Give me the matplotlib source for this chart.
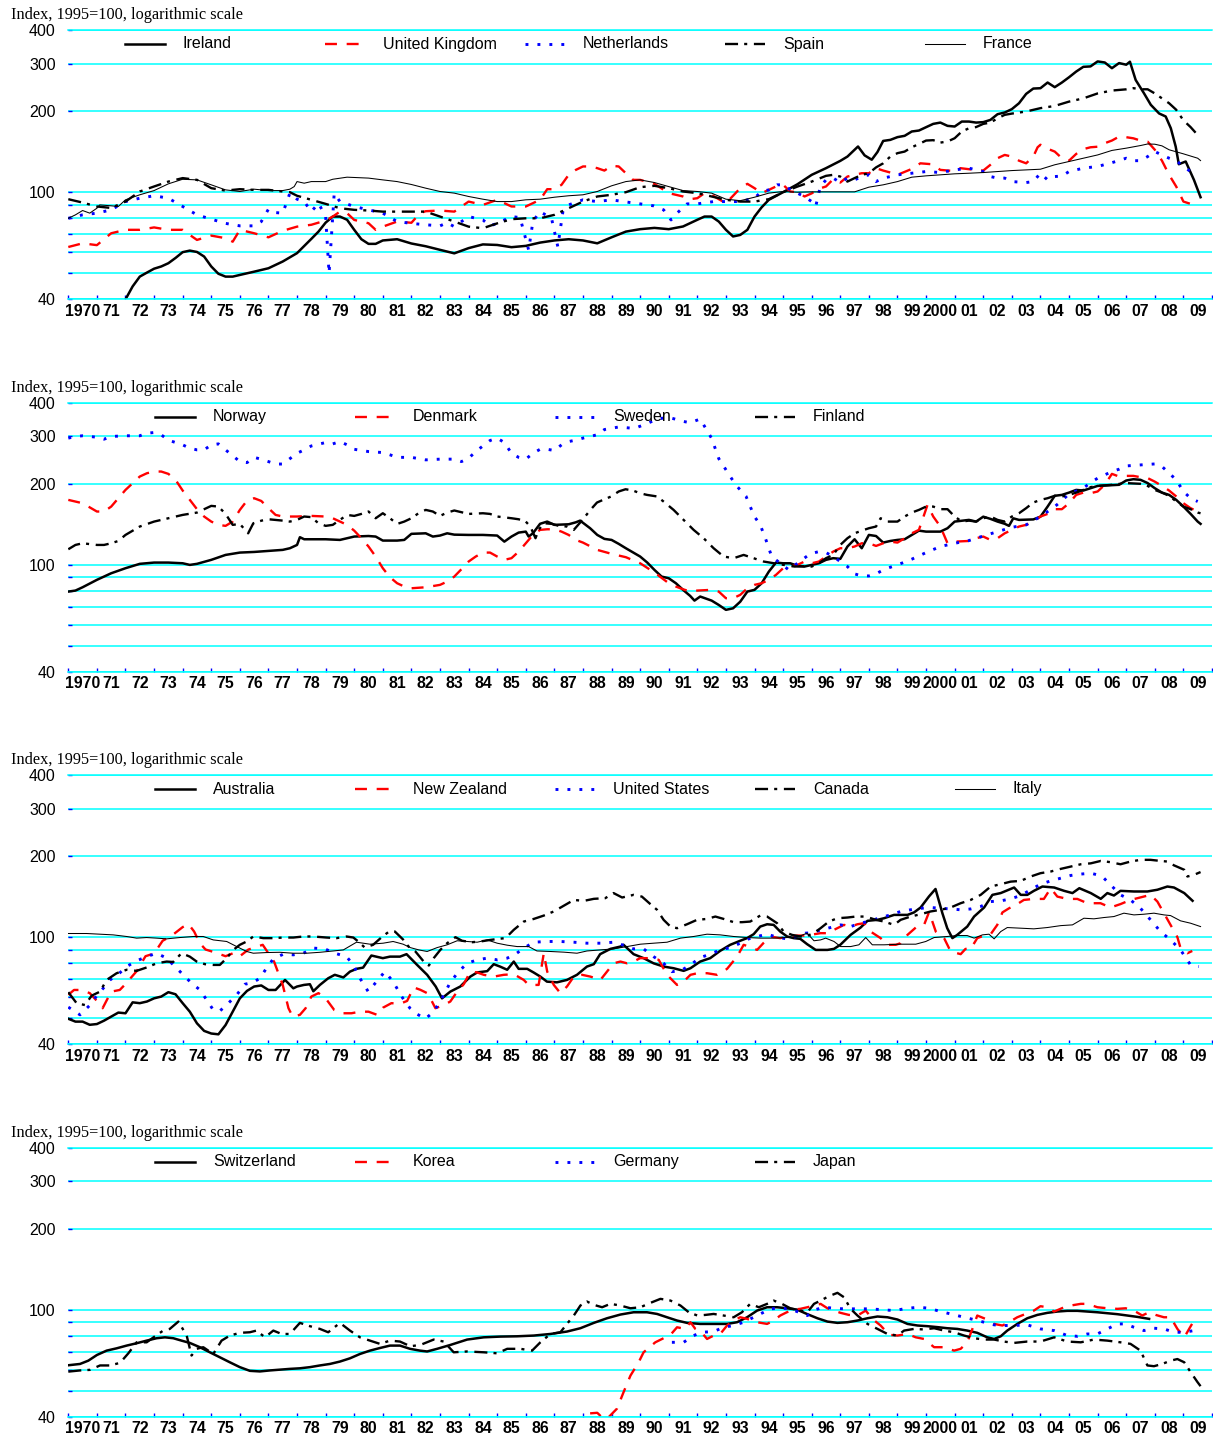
import numpy as np
import matplotlib.pyplot as plt
from matplotlib.lines import Line2D
from matplotlib.ticker import FixedLocator, FixedFormatter, NullLocator

plt.rcParams['font.family'] = ['Liberation Sans', 'DejaVu Sans']
plt.rcParams['lines.scale_dashes'] = False

""" Data (index, 1995=100), read off the chart as (year, value) """
# panel 1
ireland = [(1971.75, 37), (1972.0, 40), (1972.25, 44.7), (1972.5, 48.6), (1972.75, 50.3), (1973.0, 52),
           (1973.25, 53), (1973.5, 54.5), (1973.75, 57), (1974.0, 59.9), (1974.25, 60.7), (1974.5, 60),
           (1974.75, 57.7), (1975.0, 53), (1975.25, 49.8), (1975.5, 48.6), (1975.75, 48.6), (1976.0, 49.3),
           (1976.5, 50.7), (1977.0, 52.2), (1977.5, 55.3), (1978.0, 59.4), (1978.5, 67.1), (1978.75, 71.4),
           (1979.0, 77.1), (1979.25, 81.2), (1979.5, 81.2), (1979.75, 79), (1980.0, 72.5), (1980.25, 66.9),
           (1980.5, 64.3), (1980.75, 64.3), (1981.0, 66.2), (1981.5, 66.9), (1982.0, 64.5), (1982.5, 63),
           (1983.0, 61.1), (1983.5, 59.3), (1984.0, 62), (1984.5, 64), (1985.0, 63.7), (1985.5, 62.5),
           (1986.0, 63.2), (1986.5, 65), (1987.0, 66.2), (1987.5, 66.9), (1988.0, 66.2), (1988.5, 64.6),
           (1989.0, 68), (1989.5, 71.4), (1990.0, 72.9), (1990.5, 73.7), (1991.0, 72.9), (1991.5, 74.6),
           (1992.0, 79), (1992.25, 81.2), (1992.5, 81.2), (1992.75, 77.8), (1993.0, 72.5), (1993.25, 68.5),
           (1993.5, 69.4), (1993.75, 72.5), (1994.0, 81.2), (1994.25, 87.9), (1994.5, 93.7), (1995.0, 100),
           (1995.5, 107), (1996.0, 116), (1996.5, 122.8), (1997.0, 130.7), (1997.25, 135.6), (1997.62, 147.8),
           (1997.85, 137), (1998.1, 132), (1998.3, 141), (1998.5, 155), (1998.75, 156.4), (1999.0, 160.1),
           (1999.25, 161.9), (1999.5, 168), (1999.75, 169.4), (2000.0, 174.3), (2000.25, 179.3), (2000.5, 181.3),
           (2000.75, 176.3), (2001.0, 175.3), (2001.25, 182.9), (2001.5, 182.9), (2001.75, 181.3), (2002.0, 182),
           (2002.25, 185.5), (2002.5, 194.8), (2002.75, 197.6), (2003.0, 203.4), (2003.25, 213.9), (2003.5, 231.7),
           (2003.75, 242.5), (2004.0, 243.2), (2004.25, 255.3), (2004.5, 245.4), (2004.75, 255.3), (2005.0, 267.1),
           (2005.25, 280.4), (2005.5, 292), (2005.75, 293), (2006.0, 305.8), (2006.25, 303), (2006.5, 288.6),
           (2006.75, 301.5), (2007.0, 297.3), (2007.13, 305), (2007.33, 261), (2007.62, 233), (2007.86, 211),
           (2008.15, 196), (2008.38, 191), (2008.56, 172.7), (2008.73, 147.7), (2008.84, 127), (2009.08, 130),
           (2009.37, 111), (2009.6, 95.8)]
uk = [(1970.0, 62.6), (1970.5, 64.6), (1971.0, 63.6), (1971.5, 70.4), (1972.0, 72.5), (1972.5, 72.5), (1973.0, 74),
      (1973.5, 72.5), (1974.0, 72.5), (1974.25, 69.4), (1974.5, 66.5), (1975.0, 69), (1975.5, 67.5), (1975.75, 65.5),
      (1976.0, 72.5), (1976.5, 70.4), (1977.0, 68), (1977.5, 71.9), (1978.0, 74.5), (1978.5, 75.7), (1979.0, 78.5),
      (1979.25, 81.2), (1979.5, 84.7), (1979.75, 83.6), (1980.0, 78.9), (1980.5, 76.7), (1980.75, 72.5),
      (1981.0, 74.5), (1981.5, 77.8), (1982.0, 77), (1982.3, 83.6), (1982.5, 85), (1983.0, 85.5), (1983.5, 84.7),
      (1984.0, 92.3), (1984.5, 89.7), (1985.0, 93.7), (1985.5, 88.5), (1986.0, 88.5), (1986.5, 93.7),
      (1986.75, 102.6), (1987.0, 102.6), (1987.25, 106.5), (1987.5, 116), (1987.75, 121), (1988.0, 124.6),
      (1988.25, 124.6), (1988.5, 122.8), (1988.75, 120.3), (1989.0, 125.3), (1989.25, 124.6), (1989.5, 117.6),
      (1989.75, 111.1), (1990.0, 111.1), (1990.5, 107.4), (1991.0, 99.2), (1991.5, 96.4), (1991.75, 94.2),
      (1992.0, 95), (1992.25, 99.2), (1992.5, 97.8), (1992.75, 94.2), (1993.0, 91), (1993.25, 97), (1993.5, 103.5),
      (1993.75, 107.4), (1994.0, 103.5), (1994.25, 99.2), (1994.5, 102), (1994.75, 105), (1995.0, 106.5),
      (1995.25, 100.6), (1995.5, 100), (1995.75, 96.4), (1996.0, 99), (1996.25, 103), (1996.5, 105),
      (1996.75, 111.7), (1997.0, 108.6), (1997.25, 114.3), (1997.5, 116), (1997.75, 117.6), (1998.0, 117.6),
      (1998.25, 122.8), (1998.5, 120.3), (1998.75, 118.3), (1999.0, 116), (1999.5, 122), (1999.8, 128),
      (2000.2, 127), (2000.5, 121), (2000.9, 120), (2001.2, 122.8), (2001.7, 121), (2002.0, 120.3),
      (2002.25, 126.4), (2002.5, 133.7), (2002.75, 137.5), (2003.0, 135.6), (2003.25, 130.9), (2003.5, 128),
      (2003.75, 135.6), (2003.9, 146.8), (2004.0, 150), (2004.25, 145), (2004.5, 141.5), (2004.75, 133.7),
      (2005.0, 130.9), (2005.25, 138.7), (2005.5, 144.5), (2005.75, 146.8), (2006.0, 147.5), (2006.25, 152),
      (2006.5, 155.5), (2006.75, 160.8), (2007.0, 160), (2007.25, 158.5), (2007.5, 155.5), (2007.75, 154),
      (2008.0, 143.7), (2008.25, 130.9), (2008.5, 116), (2008.75, 104.9), (2009.0, 92.3), (2009.25, 90.5),
      (2009.5, 92.3)]
netherlands = [(1970.0, 80), (1970.25, 81.2), (1970.5, 82.4), (1971.0, 83.6), (1971.5, 86), (1972.0, 92.3),
               (1972.5, 95), (1973.0, 97), (1973.5, 95), (1974.0, 88.5), (1974.5, 82.4), (1975.0, 79.4),
               (1975.5, 76.6), (1976.0, 75), (1976.5, 75), (1976.75, 77.8), (1977.0, 86.5), (1977.25, 84),
               (1977.5, 83.6), (1977.75, 99.2), (1978.0, 94.2), (1978.25, 92.3), (1978.5, 84.7), (1978.75, 91),
               (1979.0, 81.2), (1979.12, 50), (1979.3, 99), (1979.5, 92.3), (1980.0, 88.5), (1980.5, 86),
               (1981.0, 83.6), (1981.5, 77.8), (1982.0, 76.6), (1982.5, 75.7), (1983.0, 75), (1983.25, 77),
               (1983.5, 74.5), (1984.0, 81.2), (1984.5, 78.9), (1984.75, 75), (1985.0, 76.6), (1985.5, 81.2),
               (1985.8, 80.5), (1986.1, 61), (1986.25, 78), (1986.5, 84.7), (1986.9, 80), (1987.12, 62.8),
               (1987.3, 85), (1987.5, 89.7), (1988.0, 93.7), (1988.5, 92.3), (1989.0, 93.7), (1989.5, 92),
               (1990.0, 90.5), (1990.47, 89), (1990.82, 86), (1991.08, 78.9), (1991.29, 83.6), (1991.64, 90.5),
               (1992.0, 90.5), (1992.57, 92.3), (1993.0, 92.3), (1993.5, 92.3), (1994.0, 95), (1994.24, 100.6),
               (1994.5, 102), (1994.79, 106.5), (1995.02, 106.5), (1995.26, 102), (1995.5, 99.2), (1995.74, 96.4),
               (1996.0, 92.3), (1996.14, 88.5), (1996.3, 104.9), (1996.5, 111.1), (1996.75, 112.8), (1997.0, 108.6),
               (1997.25, 112.8), (1997.5, 111.1), (1997.75, 114.3), (1998.0, 116), (1998.25, 109.5), (1998.5, 112.8),
               (1998.75, 114.3), (1999.0, 116), (1999.5, 117.6), (2000.0, 119.3), (2000.5, 118.3), (2001.0, 121),
               (2001.5, 122.8), (2002.0, 119.3), (2002.25, 114.3), (2002.5, 112.8), (2002.75, 112.8), (2003.0, 109.5),
               (2003.5, 108.6), (2003.75, 109.5), (2004.0, 117.6), (2004.25, 111.1), (2004.5, 114.3), (2004.75, 114.8),
               (2005.0, 119.3), (2005.5, 122.8), (2006.0, 124.6), (2006.5, 128.7), (2007.0, 133.7), (2007.25, 130.9),
               (2007.5, 130.9), (2007.75, 135.6), (2008.0, 141.5), (2008.25, 137.5), (2008.5, 133.7), (2008.75, 130.9),
               (2009.0, 124.6), (2009.25, 119.3), (2009.4, 117.6)]
spain = [(1970.0, 94.2), (1970.5, 91.5), (1971.0, 88.5), (1971.5, 87.4), (1972.0, 92.3), (1972.5, 100.6),
         (1973.0, 105), (1973.5, 109.5), (1974.0, 112.8), (1974.5, 111.1), (1975.0, 103.5), (1975.5, 101.4),
         (1976.0, 102.6), (1976.5, 102), (1977.0, 102), (1977.5, 100.6), (1977.75, 100), (1978.0, 97),
         (1978.5, 93.7), (1979.0, 90.5), (1979.5, 87.2), (1980.0, 86), (1980.5, 85.5), (1981.0, 84.7),
         (1981.5, 84.7), (1982.0, 84.7), (1982.5, 84.7), (1983.0, 81.2), (1983.5, 77.8), (1984.0, 74.5),
         (1984.5, 73.5), (1985.0, 76.6), (1985.5, 79.4), (1986.0, 80), (1986.5, 80), (1987.0, 82.4),
         (1987.5, 87.2), (1988.0, 92.3), (1988.5, 96.4), (1989.0, 97.8), (1989.5, 100), (1990.0, 104.4),
         (1990.5, 105.6), (1991.0, 103.5), (1991.5, 100.6), (1992.0, 99.2), (1992.5, 96.4), (1993.0, 93.7),
         (1993.5, 92.3), (1994.0, 92.3), (1994.5, 94.2), (1995.0, 100), (1995.5, 104.9), (1996.0, 109.5),
         (1996.5, 115), (1996.75, 116), (1997.0, 114.3), (1997.25, 109.5), (1997.5, 112.8), (1997.75, 116),
         (1998.0, 117.6), (1998.25, 123.6), (1998.5, 128), (1998.75, 135.6), (1999.0, 139.6), (1999.25, 141.5),
         (1999.5, 146.8), (1999.75, 151), (2000.0, 155.5), (2000.25, 156), (2000.5, 152.8), (2000.75, 154.2),
         (2001.0, 158.6), (2001.25, 168), (2001.5, 172.7), (2001.75, 174.5), (2002.0, 179.3), (2002.25, 181.3),
         (2002.5, 188), (2002.75, 193.7), (2003.0, 195.8), (2003.5, 199.3), (2004.0, 205.1), (2004.5, 209),
         (2005.0, 216.9), (2005.5, 223), (2006.0, 232.6), (2006.5, 238.4), (2007.0, 240.9), (2007.25, 243.3),
         (2007.5, 241), (2007.75, 241), (2008.0, 232.6), (2008.25, 223), (2008.5, 213.9), (2008.75, 202.2),
         (2009.0, 184.8), (2009.25, 174.5), (2009.5, 163)]
france = [(1970.0, 80), (1970.25, 82.4), (1970.5, 85.5), (1970.75, 83.6), (1971.0, 87.2), (1971.1, 89.7),
          (1971.5, 89), (1971.75, 88.5), (1972.0, 93.7), (1972.5, 97.8), (1973.0, 101.4), (1973.5, 107.4),
          (1974.0, 111.7), (1974.5, 111.1), (1975.0, 106.5), (1975.5, 102), (1976.0, 100.6), (1976.5, 102.6),
          (1977.0, 101.4), (1977.5, 101.4), (1977.75, 102.6), (1977.9, 104.9), (1978.0, 109.5), (1978.25, 108),
          (1978.5, 109.5), (1979.0, 109.5), (1979.25, 111.7), (1979.75, 113.7), (1980.0, 113.4), (1980.5, 112.8),
          (1981.0, 111.1), (1981.5, 109.5), (1982.0, 106.8), (1982.5, 103.5), (1983.0, 100.6), (1983.5, 99.2),
          (1984.0, 96.4), (1984.5, 94.2), (1985.0, 92.3), (1985.5, 92.3), (1986.0, 93.7), (1986.5, 94.2),
          (1987.0, 95.8), (1987.5, 97), (1988.0, 97.8), (1988.5, 100.6), (1989.0, 105.6), (1989.5, 109.5),
          (1990.0, 111.1), (1990.5, 108.6), (1991.0, 104.9), (1991.5, 101.4), (1992.0, 100.6), (1992.5, 99.2),
          (1993.0, 94.2), (1993.5, 93), (1994.0, 95.8), (1994.5, 99.2), (1995.0, 100.6), (1995.5, 100),
          (1996.0, 100.3), (1996.5, 100.3), (1997.0, 100.3), (1997.5, 100.3), (1998.0, 104.4), (1998.5, 106.5),
          (1999.0, 109.5), (1999.5, 113.7), (2000.0, 115), (2000.5, 116), (2001.0, 117), (2001.5, 117.6),
          (2002.0, 118.3), (2002.5, 119.3), (2003.0, 120.3), (2003.5, 121), (2004.0, 121.7), (2004.5, 126.4),
          (2005.0, 130), (2005.5, 133.7), (2006.0, 137.5), (2006.5, 142.9), (2007.0, 145.7), (2007.5, 149),
          (2007.75, 151), (2008.0, 150.7), (2008.25, 148.6), (2008.5, 143.7), (2009.0, 138.8), (2009.5, 133.7),
          (2009.6, 131)]

# panel 2
norway = [(1970.0, 79.6), (1970.25, 80.3), (1970.5, 82.6), (1971.0, 88), (1971.5, 93.1), (1972.0, 97.2),
          (1972.5, 100.9), (1973.0, 102), (1973.5, 102), (1974.0, 101.4), (1974.25, 100), (1974.5, 100.9),
          (1975.0, 104.4), (1975.5, 108.9), (1976.0, 111.1), (1976.5, 111.7), (1977.0, 112.7), (1977.5, 113.7),
          (1977.75, 115.3), (1978.0, 118.6), (1978.1, 126.7), (1978.25, 124.5), (1979.0, 124.5), (1979.5, 123.8),
          (1980.0, 127.4), (1980.5, 128), (1980.75, 127.4), (1981.0, 123.1), (1981.5, 123.1), (1981.75, 123.8),
          (1982.0, 130.4), (1982.5, 131), (1982.75, 127.4), (1983.0, 128.5), (1983.25, 131), (1983.5, 129.5),
          (1984.0, 129.2), (1984.5, 129.2), (1985.0, 128.5), (1985.25, 122), (1985.5, 127.4), (1985.75, 131.8),
          (1986.0, 132.9), (1986.1, 127.4), (1986.25, 131), (1986.5, 142.1), (1986.75, 144.8), (1987.0, 140.8),
          (1987.5, 141.5), (1987.75, 143.9), (1987.9, 146), (1988.25, 136.8), (1988.5, 129.2), (1988.75, 124.9),
          (1989.0, 123.8), (1989.25, 119.7), (1989.5, 115.3), (1990.0, 107.4), (1990.25, 102), (1990.5, 95.8),
          (1990.75, 90.5), (1991.0, 89.2), (1991.25, 85.5), (1991.5, 80.8), (1991.75, 76.7), (1991.9, 73.7),
          (1992.1, 76.3), (1992.5, 73.7), (1992.75, 71), (1993.0, 68.1), (1993.25, 69), (1993.5, 73),
          (1993.75, 79.6), (1994.0, 80.8), (1994.25, 85.5), (1994.5, 94.4), (1994.75, 102), (1995.0, 101.4),
          (1995.25, 101.4), (1995.5, 99.2), (1995.75, 98.6), (1996.0, 100), (1996.25, 101.4), (1996.5, 104.4),
          (1996.75, 105.9), (1997.0, 105.3), (1997.25, 117), (1997.5, 124.5), (1997.75, 115.3), (1998.0, 129.2),
          (1998.25, 128), (1998.5, 121), (1998.75, 122.7), (1999.0, 123.8), (1999.25, 124.5), (1999.5, 129.2),
          (1999.75, 134), (2000.0, 132.9), (2000.5, 132.9), (2000.75, 136.8), (2001.0, 144.8), (2001.5, 146.9),
          (2001.75, 144.8), (2002.0, 151), (2002.25, 148.2), (2002.5, 144.8), (2002.75, 142.1), (2002.9, 139.6),
          (2003.05, 148.9), (2003.25, 146.9), (2003.75, 147.5), (2004.0, 151), (2004.25, 164.6), (2004.5, 180.5),
          (2004.75, 181.9), (2005.0, 185.5), (2005.25, 189.8), (2005.5, 188.8), (2005.75, 192.6), (2006.0, 196.4),
          (2006.75, 198.3), (2007.0, 205.7), (2007.25, 208), (2007.5, 206.9), (2007.75, 201.2), (2008.0, 192.6),
          (2008.25, 185.5), (2008.5, 181.9), (2008.75, 174.3), (2009.0, 164.6), (2009.25, 154.7), (2009.5, 144.8),
          (2009.6, 142)]
denmark = [(1970.0, 174.3), (1970.5, 169.4), (1971.0, 157.8), (1971.25, 157.8), (1971.5, 164.6), (1972.0, 189.8),
           (1972.5, 212.8), (1972.75, 218.9), (1973.0, 222.1), (1973.25, 222.1), (1973.5, 217.7), (1973.75, 206.9),
           (1974.0, 188.8), (1974.25, 174.3), (1974.5, 161), (1974.75, 151.2), (1975.0, 144.8), (1975.25, 140.8),
           (1975.5, 139.6), (1975.75, 144.8), (1976.0, 160), (1976.25, 173.2), (1976.5, 176.8), (1976.75, 172.7),
           (1977.0, 162.4), (1977.25, 153.3), (1977.5, 151.2), (1978.0, 151.2), (1978.5, 152), (1979.0, 151.2),
           (1979.25, 149), (1979.5, 144.8), (1979.75, 140.8), (1980.0, 134), (1980.25, 125.6), (1980.5, 117),
           (1980.75, 107.4), (1981.0, 97.2), (1981.25, 90), (1981.5, 85.5), (1981.75, 83.1), (1982.0, 81.9),
           (1982.5, 82.6), (1983.0, 84.3), (1983.25, 86.7), (1983.5, 90.5), (1983.75, 96.4), (1984.0, 102.9),
           (1984.25, 107.4), (1984.5, 111.1), (1984.75, 111.1), (1985.0, 107.4), (1985.25, 104.4), (1985.5, 105.9),
           (1985.75, 112), (1986.0, 120.3), (1986.25, 129.2), (1986.5, 134.9), (1986.75, 135.6), (1987.0, 135.6),
           (1987.25, 132.9), (1987.5, 129.2), (1987.75, 123.8), (1988.0, 121), (1988.5, 113.7), (1989.0, 109.9),
           (1989.5, 106.8), (1990.0, 101.4), (1990.5, 93.7), (1991.0, 85.5), (1991.25, 83.1), (1991.5, 81.2),
           (1991.75, 79.6), (1992.0, 80.3), (1992.5, 80.8), (1992.75, 79.6), (1993.0, 75.2), (1993.25, 75.2),
           (1993.5, 77.4), (1993.75, 81.9), (1994.0, 84.3), (1994.25, 85.5), (1994.5, 88), (1994.75, 91.8),
           (1995.0, 97.2), (1995.25, 98.6), (1995.5, 100), (1995.75, 102.9), (1996.0, 101.4), (1996.25, 102.9),
           (1996.5, 107.4), (1996.75, 112), (1997.0, 115.3), (1997.25, 115.3), (1997.5, 117), (1997.75, 120.3),
           (1998.0, 120.3), (1998.25, 117.6), (1998.5, 120.3), (1998.75, 122), (1999.0, 121), (1999.25, 125.6),
           (1999.5, 131), (1999.75, 134.9), (2000.05, 167), (2000.25, 151.2), (2000.5, 138.8), (2000.75, 120.3),
           (2001.0, 122), (2001.5, 122.7), (2001.75, 125.6), (2002.0, 127.4), (2002.25, 123.8), (2002.5, 125.6),
           (2002.75, 131), (2003.0, 134.9), (2003.25, 138.8), (2003.5, 140.8), (2003.75, 144.8), (2004.0, 151.2),
           (2004.25, 154.6), (2004.5, 161), (2004.75, 161), (2005.0, 169.4), (2005.25, 181.9), (2005.5, 185.5),
           (2005.75, 184.5), (2006.0, 187.3), (2006.25, 198.3), (2006.5, 217.7), (2006.75, 212.8), (2007.0, 214),
           (2007.25, 214), (2007.5, 211.6), (2007.75, 210), (2008.0, 203.7), (2008.25, 196.4), (2008.5, 188.8),
           (2008.75, 179.5), (2009.0, 169.4), (2009.25, 162.4), (2009.5, 157.8)]
sweden = [(1970.0, 295.5), (1970.25, 299.7), (1970.5, 301.5), (1971.0, 297.8), (1971.25, 292.8), (1971.5, 299.7),
          (1972.0, 301.5), (1972.5, 301.5), (1972.75, 308.2), (1973.0, 310), (1973.25, 304), (1973.5, 290.4),
          (1974.0, 279), (1974.25, 271), (1974.5, 267.3), (1974.75, 267.3), (1975.0, 279), (1975.25, 281.3),
          (1975.5, 267.3), (1976.0, 241.8), (1976.25, 239.7), (1976.5, 250.7), (1976.75, 246.7), (1977.0, 241.8),
          (1977.25, 236.8), (1977.5, 236.8), (1978.0, 259.6), (1978.25, 267.3), (1978.5, 276.4), (1979.0, 284.6),
          (1979.25, 281.3), (1979.5, 287), (1979.75, 279), (1980.0, 268.6), (1980.5, 263.4), (1981.0, 261.2),
          (1981.25, 256.2), (1981.5, 250.7), (1982.0, 250.7), (1982.5, 245.4), (1983.0, 246.9), (1983.5, 246.9),
          (1983.75, 241.8), (1984.0, 248.8), (1984.25, 263.4), (1984.5, 276.4), (1984.75, 289.5), (1985.0, 295.5),
          (1985.25, 284.6), (1985.5, 259.6), (1985.75, 250.7), (1986.0, 246.9), (1986.25, 259.6), (1986.5, 268.6),
          (1986.75, 268.6), (1987.0, 265.8), (1987.25, 279), (1987.5, 287), (1987.75, 290.4), (1988.0, 295.5),
          (1988.25, 299.7), (1988.5, 304.2), (1988.75, 318), (1989.25, 325), (1989.8, 321), (1990.25, 335),
          (1990.6, 348), (1991.0, 353), (1991.5, 341), (1991.75, 337), (1992.1, 348), (1992.5, 295),
          (1992.75, 248), (1993.2, 209), (1993.4, 195), (1993.7, 180), (1993.85, 164.6), (1994.0, 151),
          (1994.2, 140.8), (1994.4, 123.8), (1994.6, 107.4), (1994.9, 101.4), (1995.2, 95.8), (1995.5, 101.4),
          (1995.95, 110), (1996.25, 112), (1996.5, 111.1), (1996.75, 107.4), (1997.0, 102.9), (1997.25, 98.6),
          (1997.5, 92.6), (1997.75, 91), (1998.0, 91), (1998.25, 92.6), (1998.5, 95.8), (1998.75, 98),
          (1999.0, 100), (1999.5, 105), (2000.0, 111.1), (2000.5, 117), (2001.0, 120.3), (2001.5, 123.1),
          (2002.0, 128), (2002.5, 132.9), (2003.0, 137.9), (2003.5, 140.8), (2004.0, 151.2), (2004.5, 164.6),
          (2004.75, 173.2), (2005.0, 183.5), (2005.5, 192.6), (2005.75, 202), (2006.0, 209.8), (2006.25, 215.9),
          (2006.5, 222), (2006.75, 226.6), (2007.0, 233), (2007.5, 235), (2008.0, 237), (2008.25, 231.9),
          (2008.5, 219), (2008.75, 206.9), (2009.0, 187.3), (2009.25, 176.8), (2009.5, 171.9)]
finland = [(1970.0, 114.3), (1970.25, 118.6), (1970.5, 120.3), (1971.0, 118.6), (1971.25, 118.6), (1971.5, 120.3),
           (1971.75, 122.7), (1972.0, 129.2), (1972.5, 138.8), (1973.0, 144.8), (1973.5, 149), (1974.0, 153.3),
           (1974.5, 156.4), (1974.75, 161), (1975.0, 165.6), (1975.25, 164.6), (1975.5, 154.6), (1975.75, 140.8),
           (1976.0, 141.9), (1976.29, 131), (1976.47, 142.7), (1976.76, 146), (1977.0, 147.7), (1977.5, 146),
           (1977.75, 144.8), (1978.0, 146.9), (1978.25, 151.2), (1978.5, 150.4), (1978.75, 142.7), (1979.0, 139.6),
           (1979.25, 140.8), (1979.5, 146.9), (1979.75, 153.3), (1980.0, 152), (1980.25, 154.6), (1980.5, 157.8),
           (1980.75, 149), (1981.0, 155.5), (1981.25, 149), (1981.5, 141.9), (1981.75, 144.8), (1982.0, 149),
           (1982.25, 155.5), (1982.5, 160), (1982.75, 157.8), (1983.0, 152), (1983.25, 156.4), (1983.5, 159.2),
           (1984.0, 154.6), (1984.5, 155.5), (1984.75, 154.6), (1985.0, 151.2), (1985.5, 149), (1985.75, 147.7),
           (1986.0, 144.8), (1986.16, 138.8), (1986.34, 125.6), (1986.45, 134.9), (1986.63, 142.8), (1986.92, 142),
           (1987.15, 139.6), (1987.44, 138.8), (1987.68, 134.9), (1988.0, 147.7), (1988.26, 160), (1988.49, 170.4),
           (1988.75, 175.2), (1988.99, 179.5), (1989.25, 187.3), (1989.49, 190.9), (1989.75, 188.8), (1990.0, 184.4),
           (1990.24, 181.9), (1990.59, 179.5), (1990.82, 171.8), (1991.17, 160), (1991.52, 146.9), (1991.87, 134.9),
           (1992.22, 125.6), (1992.57, 115.3), (1992.92, 107.4), (1993.27, 105.9), (1993.62, 108.9), (1993.97, 105.9),
           (1994.32, 102.9), (1994.67, 101.4), (1995.02, 100), (1995.4, 98.6), (1995.7, 98.8), (1996.0, 98.6),
           (1996.25, 101.4), (1996.5, 105.9), (1996.75, 108.9), (1997.0, 118.6), (1997.25, 125.6), (1997.5, 131),
           (1997.75, 134), (1998.0, 136.8), (1998.25, 138.8), (1998.41, 149), (1998.65, 144.8), (1999.0, 144.8),
           (1999.25, 151.2), (1999.5, 156.4), (1999.75, 160), (2000.0, 164.6), (2000.25, 164.6), (2000.5, 161),
           (2000.75, 161), (2001.0, 151.2), (2001.25, 144.8), (2001.5, 146), (2001.75, 144.8), (2002.0, 149),
           (2002.25, 151.2), (2002.5, 146.9), (2002.75, 144.8), (2003.0, 151.2), (2003.25, 155.5), (2003.5, 162.4),
           (2003.75, 170.4), (2004.0, 174.3), (2004.25, 176.8), (2004.5, 180.5), (2004.75, 179.5), (2005.0, 181.9),
           (2005.25, 185.5), (2005.5, 189.8), (2005.75, 194.4), (2006.0, 196.4), (2006.5, 198.3), (2007.0, 201.2),
           (2007.5, 200), (2007.75, 196.4), (2008.0, 189.8), (2008.25, 185.5), (2008.5, 180.5), (2008.75, 172),
           (2009.0, 164.6), (2009.25, 161), (2009.5, 156.4), (2009.6, 155.5)]

# panel 3
australia = [(1970.0, 49.8), (1970.25, 48.6), (1970.5, 48.6), (1970.75, 47.3), (1971.0, 47.6), (1971.25, 49),
             (1971.5, 50.7), (1971.75, 52.5), (1972.0, 52.2), (1972.25, 57.3), (1972.5, 56.9), (1972.75, 57.7),
             (1973.0, 59.3), (1973.25, 60.2), (1973.5, 62.5), (1973.75, 61.4), (1974.0, 56.9), (1974.25, 52.9),
             (1974.5, 47.9), (1974.75, 44.9), (1975.0, 43.9), (1975.25, 43.6), (1975.5, 47.2), (1975.75, 52.9),
             (1976.0, 59.3), (1976.25, 63.2), (1976.5, 65.6), (1976.75, 66.2), (1977.0, 63.7), (1977.25, 63.7),
             (1977.58, 69.4), (1977.87, 64.6), (1978.0, 65.6), (1978.24, 66.5), (1978.45, 66.9), (1978.57, 63),
             (1978.8, 66.5), (1979.09, 70.4), (1979.32, 72.5), (1979.62, 70.9), (1979.85, 74.5), (1980.08, 76.3),
             (1980.31, 77.1), (1980.6, 85.5), (1981.0, 83.6), (1981.25, 84.7), (1981.6, 84.7), (1981.83, 86.5),
             (1982.2, 78.9), (1982.55, 72.5), (1982.85, 65.6), (1983.07, 59.3), (1983.36, 62.8), (1983.71, 65.6),
             (1984.06, 71.4), (1984.3, 74), (1984.65, 74.8), (1984.88, 79.4), (1985.1, 77.8), (1985.35, 75.7),
             (1985.58, 81.2), (1985.75, 76.3), (1986.05, 76.3), (1986.28, 73.9), (1986.51, 71.4), (1986.74, 68.4),
             (1987.09, 68), (1987.44, 69.4), (1987.79, 72.5), (1988.14, 77.8), (1988.38, 79.4), (1988.6, 86.5),
             (1988.96, 90.5), (1989.31, 92.3), (1989.42, 93.7), (1989.77, 86.5), (1990.12, 83.6), (1990.47, 80),
             (1990.82, 77.8), (1991.17, 76.7), (1991.52, 75), (1991.76, 76.7), (1992.1, 81.2), (1992.45, 83.6),
             (1992.8, 89), (1993.15, 93.7), (1993.5, 97), (1993.74, 99.2), (1993.97, 102.6), (1994.2, 109.5),
             (1994.44, 111.7), (1994.67, 111.1), (1994.9, 104.9), (1995.14, 100.6), (1995.37, 99.2), (1995.6, 98.6),
             (1995.84, 94.2), (1996.14, 89.7), (1996.55, 89.7), (1996.78, 90.5), (1997.0, 93.7), (1997.36, 102),
             (1997.71, 108.6), (1997.95, 115), (1998.3, 116), (1998.53, 117.6), (1998.88, 121), (1999.35, 121),
             (1999.58, 123.6), (1999.81, 128.9), (2000.1, 141.6), (2000.33, 151), (2000.57, 122.8), (2000.74, 108),
             (2000.92, 99.2), (2001.09, 102), (2001.44, 109.5), (2001.68, 119.3), (2002.03, 128.9), (2002.32, 143.6),
             (2002.61, 145.8), (2003.08, 152.9), (2003.31, 143.6), (2003.54, 143.6), (2003.77, 148.6), (2004.07, 154.2),
             (2004.48, 152.9), (2004.83, 148.6), (2005.12, 145.8), (2005.36, 152), (2005.76, 145.8), (2006.11, 138.8),
             (2006.34, 145.8), (2006.57, 142.8), (2006.8, 148.6), (2007.27, 147.8), (2007.74, 147.8), (2008.09, 150),
             (2008.44, 154.2), (2008.67, 152.9), (2009.03, 145.8), (2009.32, 136.5)]
new_zealand = [(1970.0, 61.1), (1970.2, 63.7), (1970.45, 63.7), (1970.75, 62), (1971.0, 58), (1971.2, 54.5),
               (1971.5, 62.8), (1971.8, 63.7), (1972.0, 67), (1972.4, 75), (1972.7, 85), (1973.0, 87), (1973.3, 97),
               (1973.6, 101), (1974.0, 109), (1974.2, 112), (1974.4, 105), (1974.6, 95), (1974.8, 90), (1975.1, 88),
               (1975.5, 85), (1975.8, 87.5), (1976.0, 85), (1976.3, 90), (1976.8, 93.7), (1977.2, 81), (1977.5, 66.5),
               (1977.7, 54.5), (1977.85, 50.7), (1978.1, 51.5), (1978.3, 54.5), (1978.5, 60.2), (1978.75, 62),
               (1979.0, 59.3), (1979.3, 53.7), (1979.6, 52.2), (1979.9, 52.2), (1980.2, 52.9), (1980.5, 52.9),
               (1980.8, 51.5), (1981.0, 54.7), (1981.3, 56.9), (1981.6, 56.6), (1981.85, 58), (1982.08, 65.1),
               (1982.31, 63.8), (1982.55, 62), (1982.72, 57.7), (1982.84, 54.5), (1983.13, 56), (1983.36, 57.7),
               (1983.6, 62.8), (1983.83, 66.9), (1984.06, 74.5), (1984.3, 74), (1984.53, 72.5), (1984.88, 71.4),
               (1985.23, 72.5), (1985.58, 72.9), (1985.93, 69.4), (1986.1, 66.5), (1986.45, 66.5), (1986.63, 87.2),
               (1986.75, 74.5), (1986.98, 66.5), (1987.21, 62), (1987.44, 65.6), (1987.68, 71.4), (1987.97, 72.5),
               (1988.26, 71.4), (1988.61, 69.4), (1988.84, 74.5), (1989.07, 80), (1989.31, 81.2), (1989.54, 80),
               (1989.77, 81.2), (1990.0, 83.6), (1990.36, 83.6), (1990.65, 82.4), (1990.94, 72.5), (1991.29, 66.5),
               (1991.52, 68.4), (1991.76, 72.5), (1992.0, 73.5), (1992.34, 73.5), (1992.69, 72.5), (1993.04, 76.3),
               (1993.39, 84.7), (1993.62, 93.7), (1993.8, 92.3), (1994.09, 89.7), (1994.32, 95.3), (1994.55, 100.6),
               (1994.9, 99.2), (1995.13, 100.6), (1995.48, 101.4), (1995.72, 101.4), (1995.95, 102), (1996.31, 103.5),
               (1996.6, 103.5), (1996.78, 106.5), (1997.13, 111.1), (1997.36, 109.5), (1997.6, 111.7), (1997.83, 112.7),
               (1998.06, 104.9), (1998.41, 99.2), (1998.65, 93.7), (1998.94, 93.7), (1999.11, 95), (1999.35, 102),
               (1999.64, 108.6), (1999.93, 111.1), (2000.1, 123.6), (2000.22, 114.3), (2000.34, 104.9), (2000.63, 99.2),
               (2000.86, 88.5), (2001.21, 86.5), (2001.38, 90.5), (2001.56, 90.5), (2001.79, 99.2), (2002.03, 101.4),
               (2002.26, 102.6), (2002.49, 111.1), (2002.67, 123.6), (2002.9, 128), (2003.19, 132.7), (2003.42, 137.5),
               (2003.77, 138.7), (2004.12, 138.7), (2004.36, 152), (2004.59, 141.5), (2004.94, 138.7), (2005.29, 138.7),
               (2005.64, 133.7), (2006.1, 133.7), (2006.45, 128.9), (2006.8, 132.7), (2007.15, 137.5), (2007.5, 140.5),
               (2007.85, 143.6), (2008.09, 135.6), (2008.32, 122.8), (2008.55, 111.1), (2008.79, 100), (2008.9, 91.1),
               (2009.14, 87.2), (2009.31, 88.9)]
united_states = [(1970.0, 55), (1970.41, 51.5), (1970.76, 56), (1971.0, 60.7), (1971.22, 64.6), (1971.46, 69.4),
                 (1971.75, 72.9), (1972.04, 77.8), (1972.39, 81.7), (1972.74, 84.7), (1973.09, 87.2), (1973.44, 83.6),
                 (1973.73, 77.8), (1974.02, 72.5), (1974.31, 67.5), (1974.6, 63.8), (1974.84, 58.5), (1975.07, 53.7),
                 (1975.3, 53.2), (1975.6, 56.9), (1975.89, 61.1), (1976.18, 66.9), (1976.47, 68), (1976.7, 70.4),
                 (1976.93, 76.7), (1977.17, 83.1), (1977.52, 86.5), (1977.87, 86), (1978.22, 87.2), (1978.57, 91.1),
                 (1978.97, 90.5), (1979.32, 87.2), (1979.73, 84.7), (1979.97, 78.9), (1980.2, 70.4), (1980.49, 62.8),
                 (1980.78, 68.4), (1981.07, 74.5), (1981.36, 68.4), (1981.66, 60.2), (1981.95, 54.5), (1982.14, 52.2),
                 (1982.49, 49.8), (1982.78, 52.9), (1983.07, 59.3), (1983.36, 68), (1983.65, 74.5), (1983.95, 80),
                 (1984.3, 82.4), (1984.65, 83.6), (1985.0, 82.4), (1985.35, 83.6), (1985.64, 86.5), (1985.93, 91.1),
                 (1986.28, 95.8), (1986.74, 96.4), (1987.21, 96.4), (1987.68, 95.8), (1988.14, 95), (1988.61, 95),
                 (1989.07, 95.8), (1989.37, 93.7), (1989.77, 90.5), (1990.12, 90.5), (1990.47, 84.7), (1990.82, 80),
                 (1991.11, 74.5), (1991.41, 75), (1991.76, 78.9), (1992.1, 84), (1992.45, 86.5), (1992.8, 89.7),
                 (1993.15, 91.5), (1993.5, 95), (1993.8, 98.6), (1994.09, 100.6), (1994.44, 102.6), (1994.79, 100),
                 (1995.13, 98.6), (1995.48, 100.6), (1995.78, 103.5), (1996.07, 104), (1996.31, 106.5), (1996.66, 108.6),
                 (1997.01, 111.1), (1997.36, 109.5), (1997.71, 112.7), (1998.06, 115), (1998.41, 118.3), (1998.76, 121),
                 (1999.11, 124.6), (1999.46, 126.4), (1999.81, 128), (2000.16, 128.9), (2000.51, 128), (2000.86, 127.3),
                 (2001.21, 126.4), (2001.56, 127.3), (2001.91, 130), (2002.26, 135.6), (2002.61, 136.4), (2002.96, 138.8),
                 (2003.31, 142.8), (2003.66, 150), (2004.0, 157.3), (2004.36, 161.8), (2004.71, 165.6), (2005.06, 169.5),
                 (2005.41, 171.5), (2005.76, 172.8), (2005.99, 170.4), (2006.22, 165.6), (2006.51, 154.2), (2006.8, 143.6),
                 (2007.15, 137.5), (2007.5, 128), (2007.85, 116), (2008.2, 104.9), (2008.55, 97.7), (2008.9, 89.7),
                 (2009.25, 78.9), (2009.54, 77.8)]
canada = [(1970.0, 62.5), (1970.29, 56.9), (1970.58, 56), (1970.82, 60.7), (1971.11, 62.8), (1971.34, 69.4),
          (1971.69, 73.5), (1972.04, 75.7), (1972.39, 75), (1972.74, 77.2), (1973.09, 80), (1973.44, 81.2),
          (1973.67, 80.9), (1973.96, 87.2), (1974.25, 84.7), (1974.49, 81.2), (1974.78, 79.4), (1975.07, 78.9),
          (1975.3, 78.9), (1975.54, 83.6), (1975.77, 89.7), (1976.0, 93.7), (1976.24, 96.4), (1976.47, 100.6),
          (1976.82, 99.2), (1977.17, 99.2), (1977.52, 99.7), (1977.87, 99.7), (1978.22, 100.6), (1978.57, 100.6),
          (1979.03, 99.7), (1979.38, 99.2), (1979.73, 100.6), (1979.97, 99.7), (1980.14, 96.4), (1980.37, 91.5),
          (1980.66, 93.7), (1980.96, 100), (1981.25, 105.6), (1981.42, 105), (1981.71, 98), (1981.9, 92.3),
          (1982.14, 88.5), (1982.43, 81.2), (1982.61, 78.5), (1982.78, 83.6), (1983.01, 89.7), (1983.25, 95),
          (1983.54, 100), (1983.77, 97), (1984.12, 95.8), (1984.41, 96.4), (1984.76, 97.7), (1985.05, 98.6),
          (1985.29, 99.2), (1985.58, 106.5), (1985.93, 114.3), (1986.28, 116.9), (1986.63, 120.3), (1986.98, 124.6),
          (1987.33, 130.9), (1987.68, 137.5), (1988.03, 136.4), (1988.38, 138.8), (1988.78, 139.6), (1989.07, 145.8),
          (1989.37, 140.4), (1989.77, 143.6), (1990.06, 141.5), (1990.36, 132.6), (1990.59, 126.4), (1990.82, 116),
          (1991.06, 109.5), (1991.29, 108), (1991.64, 111.7), (1991.99, 116), (1992.34, 116.9), (1992.63, 119.3),
          (1992.92, 116.9), (1993.27, 113.7), (1993.56, 113.7), (1993.85, 114.3), (1994.2, 120.3), (1994.44, 119.3),
          (1994.79, 112.7), (1995.02, 104.9), (1995.31, 102), (1995.6, 100.6), (1995.84, 101), (1996.1, 104),
          (1996.31, 108), (1996.6, 114.3), (1996.9, 117.6), (1997.25, 118.3), (1997.54, 119.3), (1997.89, 119.3),
          (1998.24, 116), (1998.53, 114.3), (1998.88, 111.1), (1999.11, 116), (1999.46, 119.3), (1999.81, 121.7),
          (2000.16, 124.6), (2000.51, 126.4), (2000.86, 128.9), (2001.21, 133.7), (2001.56, 137.5), (2001.91, 143.6),
          (2002.26, 154.2), (2002.61, 157.3), (2002.96, 160.8), (2003.31, 161.8), (2003.66, 168), (2004.0, 172.8),
          (2004.36, 175.3), (2004.71, 179.3), (2005.06, 182.9), (2005.41, 186.5), (2005.76, 188), (2006.11, 191.9),
          (2006.45, 189.9), (2006.8, 186.5), (2007.15, 190.9), (2007.5, 193.7), (2007.85, 193.7), (2008.2, 191.9),
          (2008.44, 190.9), (2008.67, 184.8), (2009.03, 177.9), (2009.14, 168), (2009.37, 170.4), (2009.6, 174.5)]
italy = [(1970.0, 103.2), (1970.64, 103.2), (1971.11, 102.6), (1971.57, 102), (1972.04, 100.6), (1972.39, 99.2),
         (1972.74, 99.7), (1973.09, 99.2), (1973.44, 98.6), (1973.9, 99.7), (1974.37, 100.6), (1974.72, 100.6),
         (1975.07, 97.7), (1975.54, 96.4), (1975.89, 92.3), (1976.24, 88.5), (1976.47, 87.2), (1976.93, 87.7),
         (1977.4, 87.9), (1977.87, 87.2), (1978.33, 87.2), (1978.8, 87.9), (1979.27, 88.9), (1979.62, 89.7),
         (1980.08, 95.8), (1980.55, 94.2), (1981.01, 95), (1981.36, 96.4), (1981.71, 94.2), (1981.96, 91.5),
         (1982.26, 89.7), (1982.55, 88.5), (1982.9, 91.5), (1983.25, 93.7), (1983.6, 97), (1983.95, 96.4),
         (1984.3, 95.8), (1984.65, 97.7), (1985.0, 95), (1985.35, 93.4), (1985.7, 92.3), (1986.1, 92.3),
         (1986.39, 88.9), (1986.86, 88.5), (1987.33, 88), (1987.79, 87.2), (1988.14, 88.9), (1988.61, 89.7),
         (1989.07, 90.5), (1989.54, 92.3), (1990.01, 94.2), (1990.47, 95), (1990.94, 95.8), (1991.41, 99.2),
         (1991.87, 100.6), (1992.34, 102.6), (1992.8, 102), (1993.27, 100.6), (1993.74, 99.7), (1994.2, 99.2),
         (1994.67, 99.2), (1995.13, 99.7), (1995.48, 100), (1995.84, 103.5), (1996.08, 97), (1996.31, 97.7),
         (1996.49, 99.2), (1996.78, 96.4), (1997.01, 92.3), (1997.36, 92.3), (1997.65, 93.7), (1997.89, 99.7),
         (1998.12, 93.7), (1998.53, 93.7), (1999.11, 94.2), (1999.64, 94.2), (1999.99, 96.4), (2000.28, 99.7),
         (2000.74, 100.6), (2001.09, 101.4), (2001.44, 101.4), (2001.68, 99.2), (2001.97, 102), (2002.2, 102.6),
         (2002.38, 98.6), (2002.61, 104.9), (2002.84, 108.6), (2003.31, 108), (2003.77, 107.4), (2004.24, 108.6),
         (2004.71, 110.4), (2005.12, 111.1), (2005.52, 117.6), (2005.87, 117), (2006.22, 118.3), (2006.57, 119.3),
         (2006.92, 122.8), (2007.27, 121), (2007.62, 121.7), (2007.97, 122.8), (2008.32, 121), (2008.55, 120.3),
         (2008.9, 115), (2009.25, 112.7), (2009.6, 109.5)]

# panel 4
switzerland = [(1970.0, 62.3), (1970.41, 63), (1970.7, 64.8), (1971.0, 68), (1971.34, 70.6), (1971.69, 72),
               (1972.04, 73.7), (1972.39, 75.2), (1972.74, 76.9), (1973.09, 78.5), (1973.38, 79.1), (1973.67, 78.5),
               (1973.96, 76.9), (1974.25, 75.4), (1974.6, 72.7), (1974.95, 69.6), (1975.3, 66.7), (1975.65, 63.9),
               (1976.0, 61.3), (1976.35, 59.4), (1976.7, 59.1), (1977.05, 59.6), (1977.4, 60), (1977.75, 60.4),
               (1978.1, 60.7), (1978.45, 61.3), (1978.8, 62.2), (1979.15, 63), (1979.5, 64.3), (1979.85, 66.1),
               (1980.2, 68.6), (1980.55, 70.6), (1980.9, 72.2), (1981.25, 73.7), (1981.6, 73.7), (1981.95, 71.7),
               (1982.3, 70.6), (1982.55, 70.1), (1982.9, 71.7), (1983.36, 74.1), (1983.95, 77.6), (1984.53, 79.1),
               (1985.11, 79.6), (1985.69, 79.8), (1986.28, 80.3), (1986.86, 81.4), (1987.44, 83.1), (1987.91, 85.5),
               (1988.38, 89.5), (1988.84, 93.1), (1989.31, 96.1), (1989.77, 98), (1990.24, 98), (1990.59, 96.6),
               (1990.94, 93.9), (1991.29, 91.3), (1991.64, 89.5), (1992.1, 88.7), (1992.57, 88.7), (1993.04, 88.7),
               (1993.39, 90), (1993.74, 93.9), (1994.09, 99.4), (1994.44, 102.3), (1994.79, 102.3), (1995.13, 101.4),
               (1995.48, 100.3), (1995.83, 96.6), (1996.2, 93.1), (1996.55, 90.5), (1996.9, 89.5), (1997.25, 90),
               (1997.6, 91.3), (1997.95, 93.1), (1998.3, 94.5), (1998.65, 93.9), (1999.0, 92.1), (1999.35, 88.7),
               (1999.7, 87.5), (2000.05, 87), (2000.4, 86.3), (2000.74, 85.5), (2001.09, 85), (2001.44, 83.8),
               (2001.79, 82.2), (2002.14, 79.1), (2002.38, 78), (2002.61, 79.8), (2002.84, 83.8), (2003.19, 88.7),
               (2003.54, 93.1), (2003.89, 95.8), (2004.24, 97.5), (2004.59, 98.6), (2004.94, 99.2), (2005.29, 99.2),
               (2005.64, 98.6), (2005.99, 98), (2006.34, 97.2), (2006.69, 96.4), (2007.04, 95.3), (2007.39, 94.2),
               (2007.8, 92.6)]
korea = [(1988.25, 41.3), (1988.5, 41.5), (1988.7, 39.6), (1988.85, 39.5), (1989.19, 43), (1989.42, 49.5),
         (1989.66, 57), (1989.95, 64), (1990.12, 69.6), (1990.53, 75.8), (1990.82, 78.5), (1991.06, 80.8),
         (1991.29, 86.2), (1991.58, 85), (1991.76, 90), (1991.93, 85), (1992.16, 82.2), (1992.34, 78),
         (1992.57, 80.3), (1992.8, 81.4), (1993.04, 87.5), (1993.27, 91.3), (1993.5, 93.9), (1993.74, 92.6),
         (1994.09, 90), (1994.44, 88.7), (1994.67, 91.3), (1994.9, 95.3), (1995.13, 98), (1995.37, 100.3),
         (1995.6, 100.9), (1995.85, 102.3), (1996.08, 103.8), (1996.31, 105.3), (1996.55, 101.4), (1996.78, 99.4),
         (1997.01, 97.5), (1997.3, 95.8), (1997.6, 95.3), (1997.89, 99.4), (1998.12, 92.6), (1998.41, 87.5),
         (1998.71, 80.8), (1999.0, 80.3), (1999.35, 81.4), (1999.64, 79.1), (1999.93, 78), (2000.28, 72.7),
         (2000.63, 72.7), (2000.98, 70.6), (2001.21, 71.7), (2001.44, 75.8), (2001.62, 85), (2001.79, 95.3),
         (2002.08, 92.6), (2002.38, 88.7), (2002.67, 87.5), (2002.9, 90), (2003.19, 93.9), (2003.48, 96.6),
         (2003.77, 99.4), (2004.0, 103.2), (2004.24, 102.3), (2004.48, 98.6), (2004.83, 102.3), (2005.06, 103.8),
         (2005.41, 105.3), (2005.64, 105.3), (2005.99, 102.3), (2006.34, 101.4), (2006.69, 100.9), (2006.98, 101.4),
         (2007.27, 99.4), (2007.56, 95.3), (2007.8, 98), (2008.03, 95.8), (2008.32, 93.9), (2008.55, 93.9),
         (2008.79, 85), (2009.03, 79.1), (2009.2, 85), (2009.37, 91.3)]
germany = [(1991.11, 75.8), (1991.52, 75.8), (1991.87, 80.3), (1992.16, 82.6), (1992.57, 83.1), (1992.92, 86.2),
           (1993.27, 87.5), (1993.62, 90), (1993.97, 93.9), (1994.32, 98), (1994.55, 100.9), (1994.9, 101.4),
           (1995.25, 100.9), (1995.6, 97.5), (1995.85, 95.3), (1996.14, 100.3), (1996.43, 102.3), (1996.78, 101.4),
           (1997.13, 100.9), (1997.48, 100.9), (1997.95, 100.9), (1998.41, 100.3), (1998.88, 99.4), (1999.35, 101.4),
           (1999.75, 102.3), (2000.1, 101.4), (2000.51, 98.6), (2000.86, 96.6), (2001.33, 93.9), (2001.68, 92),
           (2002.03, 90), (2002.38, 88), (2002.72, 87.5), (2003.07, 87.5), (2003.54, 88), (2004.0, 85),
           (2004.48, 83.8), (2004.94, 80.3), (2005.29, 79.8), (2005.64, 81.4), (2005.99, 81.4), (2006.34, 85),
           (2006.69, 88.7), (2006.98, 88.7), (2007.27, 86.2), (2007.62, 83.8), (2007.97, 85.5), (2008.32, 85),
           (2008.67, 82.6), (2009.03, 82.6), (2009.37, 83.8), (2009.54, 83.8)]
japan = [(1970.0, 59), (1970.41, 59.6), (1970.76, 59.9), (1971.11, 62.2), (1971.46, 62.2), (1971.81, 63.6),
         (1972.1, 69), (1972.39, 75.8), (1972.74, 75.8), (1973.03, 79.8), (1973.32, 83.8), (1973.55, 85),
         (1973.85, 90.5), (1974.14, 80.3), (1974.31, 67.7), (1974.49, 71.7), (1974.72, 72.7), (1975.07, 68.6),
         (1975.36, 76.9), (1975.65, 80.3), (1976.0, 82.2), (1976.35, 82.6), (1976.58, 83.8), (1976.88, 79.1),
         (1977.17, 83.8), (1977.46, 81.4), (1977.75, 81.4), (1978.1, 89.5), (1978.45, 87), (1978.8, 85),
         (1979.09, 82.6), (1979.5, 89.5), (1979.85, 83.8), (1980.2, 79.1), (1980.55, 76.9), (1980.9, 74.8),
         (1981.25, 76.9), (1981.6, 76.3), (1981.96, 73.3), (1982.31, 74.1), (1982.78, 77.6), (1983.13, 76.3),
         (1983.48, 69.6), (1983.95, 70.1), (1984.53, 69.6), (1985.0, 69), (1985.35, 71.7), (1985.81, 71.7),
         (1986.22, 70.6), (1986.51, 75.8), (1986.86, 81.4), (1987.21, 82.6), (1987.44, 88.7), (1987.68, 95.3),
         (1987.91, 103.8), (1988.14, 107.4), (1988.38, 104.4), (1988.67, 102.3), (1988.96, 105.3), (1989.31, 103.8),
         (1989.66, 101.4), (1990.01, 102.3), (1990.36, 106.2), (1990.71, 109.9), (1991.06, 108.3), (1991.41, 103.8),
         (1991.7, 98), (1992.0, 95.3), (1992.28, 95.8), (1992.57, 96.6), (1992.92, 95.3), (1993.27, 93.9),
         (1993.56, 98), (1993.85, 105.3), (1994.15, 102.3), (1994.44, 105.3), (1994.67, 108.3), (1994.96, 105.3),
         (1995.25, 101.4), (1995.6, 99.4), (1995.85, 98), (1996.08, 105.3), (1996.31, 108.3), (1996.6, 112.4),
         (1996.9, 115.7), (1997.13, 111.4), (1997.36, 100.9), (1997.6, 95.3), (1997.95, 88.7), (1998.3, 85),
         (1998.65, 81.4), (1999.0, 80.3), (1999.23, 83.8), (1999.58, 85), (1999.93, 84.6), (2000.28, 85.5),
         (2000.63, 83.8), (2000.98, 82.6), (2001.33, 80.3), (2001.68, 78.5), (2002.03, 77.6), (2002.38, 77.6),
         (2002.72, 76.3), (2003.07, 75.4), (2003.54, 76.3), (2004.0, 76.3), (2004.48, 79.1), (2004.94, 76.3),
         (2005.41, 75.8), (2005.87, 77.6), (2006.34, 76.9), (2006.8, 75.8), (2007.15, 74.8), (2007.5, 70.6),
         (2007.74, 62.2), (2007.97, 61.8), (2008.26, 63), (2008.55, 64.8), (2008.79, 65.7), (2009.03, 63.9),
         (2009.25, 58.8), (2009.49, 54), (2009.6, 52.1)]

years = list(range(1970, 2010))
year_labels = ['1970' if y == 1970 else '2000' if y == 2000 else '%02d' % (y % 100) for y in years]
y_grid = [40, 50, 60, 70, 80, 90, 100, 200, 300, 400]
y_labelled = [40, 100, 200, 300, 400]
ylabel_text = 'Index, 1995=100, logarithmic scale'

""" Styles """
styles = {
    'thick': dict(color='black', lw=1.8, solid_joinstyle='round'),
    'dash': dict(color='#ff0000', lw=1.7, dashes=(8.6, 7.0)),
    'dot': dict(color='#0000ff', lw=2.1, dashes=(2.1, 6.5)),
    'dashdot': dict(color='black', lw=1.7, dashes=(9.4, 4.4, 2.2, 4.8)),
    'thin': dict(color='black', lw=0.75),
}

panels = [
    ([('Ireland', ireland, 'thick'), ('United Kingdom', uk, 'dash'), ('Netherlands', netherlands, 'dot'),
      ('Spain', spain, 'dashdot'), ('France', france, 'thin')], 125),
    ([('Norway', norway, 'thick'), ('Denmark', denmark, 'dash'), ('Sweden', sweden, 'dot'),
      ('Finland', finland, 'dashdot')], 155),
    ([('Australia', australia, 'thick'), ('New Zealand', new_zealand, 'dash'), ('United States', united_states, 'dot'),
      ('Canada', canada, 'dashdot'), ('Italy', italy, 'thin')], 155),
    ([('Switzerland', switzerland, 'thick'), ('Korea', korea, 'dash'), ('Germany', germany, 'dot'),
      ('Japan', japan, 'dashdot')], 155),
]

""" Plotting """
W, H = 1213, 1435
fig = plt.figure(figsize=(W / 100, H / 100), dpi=100)
panel_tops = [30, 402.7, 775, 1147.7]
panel_h = 269.4
left_px, right_px = 68.3, 1212

cyan = '#00ffff'
for (series, leg_x0), top in zip(panels, panel_tops):
    ax = fig.add_axes([left_px / W, 1 - (top + panel_h) / H, (right_px - left_px) / W, panel_h / H])
    for name, data, st in series:
        t, v = zip(*data)
        ax.plot(t, v, **styles[st])

    ax.set_yscale('log')
    ax.set_ylim(40, 400)
    ax.set_xlim(1970, 2010)

    ax.yaxis.set_major_locator(FixedLocator(y_grid))
    ax.yaxis.set_major_formatter(FixedFormatter([str(v) if v in y_labelled else '' for v in y_grid]))
    ax.yaxis.set_minor_locator(NullLocator())
    ax.grid(axis='y', color=cyan, lw=1.1)
    ax.set_axisbelow(True)
    ax.tick_params(axis='y', which='major', direction='in', length=2.8, width=1.0, color='#0000ff',
                   labelsize=11.5, pad=9)

    ax.xaxis.set_major_locator(FixedLocator(years + [2010]))
    ax.xaxis.set_major_formatter(FixedFormatter([''] * (len(years) + 1)))
    ax.xaxis.set_minor_locator(FixedLocator([y + 0.5 for y in years]))
    ax.xaxis.set_minor_formatter(FixedFormatter(year_labels))
    ax.tick_params(axis='x', which='major', direction='in', length=3, width=1.0, color='#0000ff')
    ax.tick_params(axis='x', which='minor', length=0, labelsize=11.4, pad=3)
    for lab in ax.xaxis.get_minorticklabels():
        lab.set_fontweight('bold')

    for s in ['left', 'right']:
        ax.spines[s].set_visible(False)
    for s in ['top', 'bottom']:
        ax.spines[s].set_color(cyan)
        ax.spines[s].set_linewidth(1.1)

    ax.annotate(ylabel_text, xy=(0, 1), xycoords='axes fraction', xytext=(11 - left_px, 15),
                textcoords='offset pixels', ha='left', va='center',
                family='Liberation Serif', fontsize=11.7)

    # legend row
    ly = 1 - (top + 14) / H
    for i, (name, data, st) in enumerate(series):
        x0 = leg_x0 + 200 * i
        fig.add_artist(Line2D([x0 / W, (x0 + 40) / W], [ly, ly], transform=fig.transFigure, **styles[st]))
        fig.text((x0 + 58) / W, ly, name, ha='left', va='center', fontsize=11.5)

fig.savefig('out.png', dpi=100)
